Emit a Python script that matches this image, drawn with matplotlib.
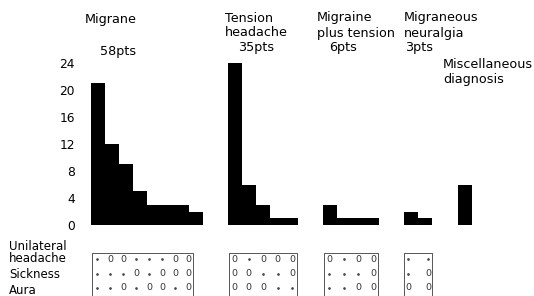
import matplotlib
matplotlib.use('Agg')
import matplotlib.pyplot as plt

# ---------------- data ----------------
migraine = [21, 12, 9, 5, 3, 3, 3, 2]
tension = [24, 6, 3, 1, 1]
migraine_plus_tension = [3, 1, 1, 1]
neuralgia = [2, 1]
miscellaneous = [6]

# feature rows: 1 -> "0" (present), 0 -> "·" (absent)
feature_labels = ["Unilateral\nheadache", "Sickness", "Aura"]
migraine_feat = [[0, 1, 1, 0, 0, 0, 1, 1],
                 [0, 0, 0, 1, 0, 1, 1, 1],
                 [0, 0, 1, 0, 1, 1, 0, 1]]
tension_feat = [[1, 0, 1, 1, 1],
                [1, 1, 0, 0, 1],
                [1, 1, 1, 0, 0]]
mpt_feat = [[1, 0, 1, 1],
            [0, 0, 0, 1],
            [0, 0, 1, 1]]
neuralgia_feat = [[0, 0],
                  [0, 1],
                  [1, 1]]

yticks = [0, 4, 8, 12, 16, 20, 24]

# ---------------- layout (pixels) ----------------
W, H = 534, 296
fig = plt.figure(figsize=(W / 100, H / 100), dpi=100)
plt.rcParams['font.family'] = ['DejaVu Sans']
FS = 9.2
FS_TICK = 8.8
FS_LAB = 8.5

y0_px, y24_px = 225, 63
ax = fig.add_axes([80 / W, (H - y0_px) / H, 1 - 80 / W, (y0_px - y24_px) / H])
ax.set_xlim(80, W)
ax.set_ylim(0, 24)
for s in ax.spines.values():
    s.set_visible(False)
ax.set_xticks([])
ax.set_yticks(yticks)
ax.set_yticklabels([str(t) for t in yticks], fontsize=FS_TICK)
ax.tick_params(axis='y', length=0, pad=3.6)
ax.patch.set_visible(False)

bw = 14
starts = [91, 228, 323, 404, 458]
series = [migraine, tension, migraine_plus_tension, neuralgia, miscellaneous]
for st, vals in zip(starts, series):
    xs = [st + i * bw for i in range(len(vals))]
    ax.bar(xs, vals, width=bw, align='edge', color='black', linewidth=0)

# overlay in pixel coordinates
ov = fig.add_axes([0, 0, 1, 1])
ov.set_xlim(0, W)
ov.set_ylim(H, 0)
ov.axis('off')
ov.patch.set_visible(False)

titles = [
    (85, [("Migrane", 20), ("58pts", 51, 100)]),
    (225, [("Tension", 19), ("headache", 33), ("35pts", 48, 238)]),
    (317, [("Migraine", 18), ("plus tension", 33), ("6pts", 48, 329)]),
    (404, [("Migraneous", 18), ("neuralgia", 33), ("3pts", 48, 405)]),
    (443, [("Miscellaneous", 65), ("diagnosis", 79)]),
]
for x, lines in titles:
    for item in lines:
        txt, y = item[0], item[1]
        xx = item[2] if len(item) > 2 else x
        ov.text(xx, y, txt, fontsize=FS, ha='left', va='center')

# feature labels
ov.text(9, 246, "Unilateral", fontsize=FS_LAB, ha='left', va='center')
ov.text(9, 258, "headache", fontsize=FS_LAB, ha='left', va='center')
ov.text(9, 274, "Sickness", fontsize=FS_LAB, ha='left', va='center')
ov.text(9, 290, "Aura", fontsize=FS_LAB, ha='left', va='center')

# feature boxes
boxes = [(92, 193), (229, 297), (324, 378), (404, 432)]
feats = [migraine_feat, tension_feat, mpt_feat, neuralgia_feat]
row_y = [259, 274, 288]
for (bl, br), fm in zip(boxes, feats):
    ov.plot([bl, bl, br, br], [296, 253, 253, 296], color='#555555', lw=0.7)
    n = len(fm[0])
    pad = 5 if n > 2 else 4
    if n > 1:
        cx = [bl + pad + i * (br - bl - 2 * pad) / (n - 1) for i in range(n)]
    else:
        cx = [(bl + br) / 2]
    for r, row in enumerate(fm):
        for c, v in enumerate(row):
            if v:
                ov.text(cx[c], row_y[r], "0", fontsize=6.8, color='#333333',
                        ha='center', va='center')
            else:
                ov.plot(cx[c], row_y[r], marker='.', ms=1.8, color='#444444')

fig.savefig('out.png', dpi=100)
